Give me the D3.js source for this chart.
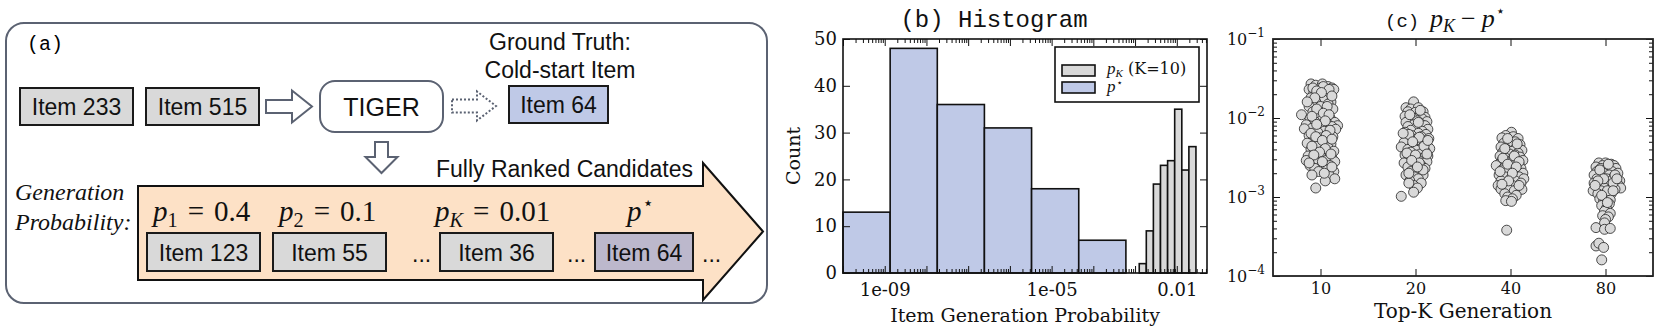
<!DOCTYPE html>
<html>
<head>
<meta charset="utf-8">
<script src="https://cdn.jsdelivr.net/npm/d3@7"></script>
<style>
body { margin: 0; background: #fff; }
</style>
</head>
<body>
<div id="chart"></div>
<script>
// ---------- data ----------
// (a) diagram labels
var inputItems = ["Item 233", "Item 515"];
var targetItem = "Item 64";
var rankedItems = ["Item 123", "Item 55", "Item 36", "Item 64"];
var rankedSubs = ["1", "2", "K", null];
var rankedProbs = ["0.4", "0.1", "0.01", null];

// (b) histogram, bin edges and counts
var pStarEdges = [1e-10, 1.35e-9, 1.82e-8, 2.45e-7, 3.31e-6, 4.47e-5, 6.03e-4];
var pStarCounts = [13, 48, 36, 31, 18, 7];
var pKEdges = [1.26e-3, 1.86e-3, 2.75e-3, 4.07e-3, 6.03e-3, 8.91e-3, 1.32e-2, 1.95e-2, 2.88e-2];
var pKCounts = [2, 9, 19, 23, 24, 35, 22, 27];
var histXLabels = [[1e-9, "1e-09"], [1e-5, "1e-05"], [1e-2, "0.01"]];
var histYTicks = [0, 10, 20, 30, 40, 50];

// (c) p_K - p*, [jitter (category units), value]
var topK = ["10", "20", "40", "80"];
var gapK10 = [[-0.10,0.027],[-0.05,0.026],[0.02,0.027],[0.08,0.025],[0.12,0.024],[-0.12,0.023],[0.00,0.024],[0.05,0.022],[-0.07,0.021],[0.10,0.021],[0.14,0.023],[-0.02,0.020],[0.06,0.019],[-0.10,0.018],[0.03,0.017],[0.11,0.016],[-0.05,0.016],[0.08,0.015],[-0.12,0.014],[0.00,0.014],[0.13,0.013],[-0.08,0.012],[0.05,0.012],[-0.02,0.011],[-0.20,0.011],[0.10,0.010],[-0.11,0.0098],[0.02,0.0095],[0.15,0.0088],[-0.06,0.0090],[0.07,0.0085],[0.18,0.0080],[-0.15,0.0082],[0.12,0.0078],[0.01,0.0076],[-0.09,0.0074],[0.16,0.0072],[-0.17,0.0073],[0.04,0.0068],[-0.03,0.0066],[0.09,0.0063],[-0.12,0.0060],[0.13,0.0058],[0.00,0.0056],[-0.07,0.0053],[0.06,0.0050],[-0.14,0.0048],[0.11,0.0047],[-0.02,0.0045],[0.08,0.0042],[-0.10,0.0040],[0.03,0.0039],[0.14,0.0038],[-0.05,0.0036],[0.09,0.0034],[-0.13,0.0033],[0.01,0.0032],[0.12,0.0031],[-0.08,0.0030],[0.06,0.0029],[-0.15,0.0029],[0.15,0.0028],[-0.03,0.0027],[0.04,0.0026],[-0.11,0.0025],[0.10,0.0025],[0.00,0.0024],[-0.06,0.0023],[0.07,0.0022],[0.14,0.0021],[-0.02,0.0021],[0.09,0.0019],[-0.09,0.0019],[0.15,0.0017],[0.05,0.0016],[-0.05,0.0013],
  [0.03,0.025],[-0.08,0.024],[0.09,0.023],[-0.04,0.022],[0.01,0.021],[0.12,0.019],[-0.06,0.018],[-0.14,0.016],[0.07,0.014],[-0.04,0.013],[0.03,0.0115],[0.09,0.011],[-0.09,0.0105],[0.05,0.0092],[-0.04,0.0083],[0.10,0.0070],[-0.10,0.0064],[0.06,0.0060],[-0.05,0.0058],[0.02,0.0052],[0.12,0.0054],[-0.09,0.0044],[0.05,0.0041],[-0.01,0.0037],[0.11,0.0035],[-0.07,0.0034],[0.02,0.0028],[-0.12,0.0027],[0.12,0.0024],[0.04,0.0020]];
var gapK20 = [[-0.02,0.016],[-0.10,0.0135],[-0.05,0.013],[0.03,0.0135],[0.08,0.012],[-0.08,0.012],[0.00,0.0118],[0.05,0.011],[-0.11,0.0105],[0.10,0.0102],[-0.03,0.010],[0.07,0.0098],[-0.07,0.0093],[0.02,0.0092],[0.12,0.0090],[-0.10,0.0088],[0.05,0.0085],[-0.02,0.0082],[0.10,0.0080],[-0.08,0.0078],[0.01,0.0075],[0.13,0.0072],[-0.05,0.0070],[0.07,0.0068],[-0.11,0.0066],[0.03,0.0064],[0.11,0.0062],[-0.04,0.0060],[0.06,0.0058],[-0.09,0.0056],[0.14,0.0055],[0.00,0.0054],[-0.06,0.0052],[0.09,0.0050],[-0.12,0.0049],[0.03,0.0048],[0.12,0.0046],[-0.03,0.0045],[-0.15,0.0043],[0.07,0.0042],[0.15,0.0041],[-0.08,0.0040],[0.01,0.0039],[0.10,0.0038],[-0.05,0.0037],[0.05,0.0035],[-0.11,0.0034],[0.13,0.0033],[-0.01,0.0032],[0.08,0.0031],[-0.07,0.0030],[0.03,0.0029],[0.12,0.0028],[-0.12,0.0027],[-0.02,0.0026],[0.06,0.0025],[-0.08,0.0024],[0.10,0.0023],[0.01,0.0022],[-0.05,0.0021],[0.05,0.0020],[-0.10,0.0019],[0.08,0.0019],[-0.01,0.0018],[0.03,0.0017],[-0.06,0.0016],[0.06,0.0015],[-0.02,0.0014],[0.02,0.0013],[-0.07,0.0015],[-0.02,0.00115],[-0.15,0.00102],
  [0.05,0.0125],[-0.06,0.011],[0.03,0.0088],[-0.07,0.0062],[0.04,0.0057],[-0.03,0.0050],[0.09,0.0044],[-0.09,0.0036],[0.00,0.0034],[0.04,0.0027],[-0.04,0.0029],[0.12,0.0035],[0.08,0.0022],[-0.07,0.0020],[0.02,0.0024],[0.13,0.0052],[-0.13,0.0064]];
var gapK40 = [[0.01,0.0066],[-0.05,0.0060],[0.03,0.0058],[-0.09,0.0056],[0.08,0.0055],[-0.02,0.0052],[0.05,0.0050],[-0.07,0.0048],[0.10,0.0046],[0.00,0.0045],[-0.10,0.0043],[0.06,0.0042],[-0.04,0.0040],[0.12,0.0039],[0.02,0.0038],[-0.08,0.0037],[0.08,0.0036],[-0.01,0.0035],[0.05,0.0034],[-0.11,0.0033],[0.10,0.0032],[-0.05,0.0031],[0.02,0.0030],[-0.09,0.0029],[0.13,0.0029],[0.06,0.0028],[-0.02,0.0027],[-0.12,0.0026],[0.09,0.0026],[-0.15,0.0025],[0.03,0.0025],[-0.06,0.0024],[0.11,0.0023],[0.00,0.0023],[-0.09,0.0022],[0.07,0.0021],[-0.03,0.0021],[0.13,0.0020],[-0.12,0.0019],[0.04,0.0019],[-0.06,0.0018],[0.09,0.0018],[0.00,0.0017],[0.14,0.0017],[-0.10,0.0016],[0.05,0.0016],[-0.04,0.0015],[0.11,0.0015],[-0.13,0.0014],[0.02,0.0014],[-0.07,0.0013],[0.08,0.0013],[-0.10,0.00126],[-0.02,0.00125],[0.12,0.00125],[0.04,0.0012],[-0.06,0.0011],[0.06,0.00105],[-0.03,0.0010],[0.02,0.00095],[-0.05,0.0009],[0.01,0.00088],[-0.04,0.00038],
  [-0.03,0.0055],[0.07,0.0047],[-0.06,0.0041],[0.04,0.0033],[-0.08,0.0031],[0.09,0.0028],[-0.03,0.0026],[0.06,0.0024],[-0.11,0.0021],[0.02,0.0020],[-0.02,0.0016],[0.09,0.0014],[-0.09,0.00145]];
var gapK80 = [[-0.07,0.0027],[0.00,0.0027],[0.06,0.0026],[-0.03,0.0025],[0.09,0.0025],[-0.10,0.0024],[0.03,0.0024],[-0.05,0.0023],[0.11,0.0023],[0.00,0.0022],[-0.09,0.0021],[0.07,0.0021],[-0.02,0.0020],[0.13,0.0020],[0.04,0.0019],[-0.12,0.0019],[-0.05,0.0018],[0.09,0.0018],[0.01,0.0017],[-0.09,0.0017],[0.15,0.0016],[0.06,0.0016],[-0.03,0.0015],[-0.12,0.0015],[0.11,0.0015],[0.02,0.0014],[-0.07,0.0014],[0.14,0.0014],[0.07,0.0013],[-0.01,0.0013],[-0.10,0.0013],[0.16,0.0013],[0.04,0.0012],[-0.13,0.0012],[-0.05,0.0012],[0.10,0.00125],[0.00,0.0011],[-0.08,0.0011],[0.06,0.0011],[-0.03,0.0010],[0.03,0.0010],[-0.06,0.00095],[0.05,0.00092],[-0.02,0.00088],[0.04,0.00082],[-0.04,0.00078],[0.01,0.00072],[-0.01,0.00066],[0.05,0.00062],[-0.03,0.00058],[0.03,0.00056],[0.00,0.00052],[-0.01,0.00047],[-0.10,0.00041],[-0.01,0.00039],[0.05,0.00040],[-0.10,0.00024],[-0.07,0.00026],[-0.02,0.00023],[-0.04,0.00016],
  [0.03,0.0026],[-0.06,0.0022],[0.10,0.0019],[-0.02,0.0017],[0.08,0.0015],[-0.08,0.0016],[0.12,0.0017],[-0.11,0.0014],[0.02,0.0012],[0.08,0.0012],[-0.04,0.00105],[0.02,0.00085]];
var gapSeries = [gapK10, gapK20, gapK40, gapK80];

// ---------- setup ----------
var W = 1661, H = 329;
var SANS = "Liberation Sans, Arial, Helvetica, sans-serif";
var SERIF = "DejaVu Serif, serif";
var TIMES = "Liberation Serif, Times New Roman, serif";
var MONO = "Liberation Mono, Courier New, monospace";
var GRAY = "#d9d9d9", BLUE = "#bfc9e7", PEACH = "#fde1c6", PURPLE = "#bcb8cc", SLATE = "#5b6272";

var svg = d3.select("#chart").append("svg")
    .attr("width", W).attr("height", H)
    .style("background", "#fff");

// math label helper: italic p, optional subscript/superscript, optional "= value"
function mathP(g, x, y, size, sub, subItalic, sup, rest, gap) {
    var t = g.append("text").attr("x", x).attr("y", y)
        .attr("font-family", TIMES).attr("font-size", size).attr("fill", "#111");
    t.append("tspan").attr("font-style", "italic").text("p");
    if (sub) {
        t.append("tspan").attr("font-size", size * 0.7).attr("dy", size * 0.22)
            .attr("font-style", subItalic ? "italic" : "normal").text(sub);
    }
    if (sup) {
        t.append("tspan").attr("font-size", size * 0.62).attr("dy", -size * 0.42).attr("dx", 1)
            .attr("font-family", "DejaVu Sans, sans-serif").text(sup);
    }
    if (rest) {
        t.append("tspan").attr("dy", sub ? -size * 0.22 : 0).attr("dx", gap).text("=");
        t.append("tspan").attr("dx", gap).text(rest);
    }
    return t;
}

// ---------- (a) diagram ----------
var gA = svg.append("g");
gA.append("rect").attr("x", 6).attr("y", 23).attr("width", 761).attr("height", 280)
    .attr("rx", 18).attr("fill", "none").attr("stroke", SLATE).attr("stroke-width", 2);
gA.append("text").attr("x", 27).attr("y", 50).attr("font-family", MONO)
    .attr("font-size", 20).text("(a)");

function itemBox(x, y, w, h, fill, label) {
    gA.append("rect").attr("x", x).attr("y", y).attr("width", w).attr("height", h)
        .attr("fill", fill).attr("stroke", "#1a1a1a").attr("stroke-width", 2);
    gA.append("text").attr("x", x + w / 2).attr("y", y + h / 2 + 8.5)
        .attr("text-anchor", "middle").attr("font-family", SANS).attr("font-size", 23)
        .attr("fill", "#111").text(label);
}
function hollowArrowH(x0, xh, x1, cy, s, hh, dashed) {
    var p = d3.path();
    p.moveTo(x0, cy - s); p.lineTo(xh, cy - s); p.lineTo(xh, cy - hh); p.lineTo(x1, cy);
    p.lineTo(xh, cy + hh); p.lineTo(xh, cy + s); p.lineTo(x0, cy + s); p.closePath();
    gA.append("path").attr("d", p.toString()).attr("fill", "#fff").attr("stroke", SLATE)
        .attr("stroke-width", 2).attr("stroke-dasharray", dashed ? "2,2" : null)
        .attr("stroke-linejoin", "miter");
}

inputItems.forEach(function (d, i) { itemBox(20 + i * 126, 88, 113, 37, GRAY, d); });
hollowArrowH(266, 292, 312, 106.5, 6.5, 16, false);

gA.append("rect").attr("x", 320).attr("y", 81).attr("width", 123).attr("height", 51)
    .attr("rx", 15).attr("fill", "#fff").attr("stroke", SLATE).attr("stroke-width", 2);
gA.append("text").attr("x", 381.5).attr("y", 115.5).attr("text-anchor", "middle")
    .attr("font-family", SANS).attr("font-size", 25).attr("fill", "#111").text("TIGER");

hollowArrowH(452, 477, 496, 106, 6.5, 14.5, true);
itemBox(509, 86, 99, 37, BLUE, targetItem);
gA.append("text").attr("x", 560).attr("y", 50).attr("text-anchor", "middle")
    .attr("font-family", SANS).attr("font-size", 23).attr("fill", "#111").text("Ground Truth:");
gA.append("text").attr("x", 560).attr("y", 78).attr("text-anchor", "middle")
    .attr("font-family", SANS).attr("font-size", 23).attr("fill", "#111").text("Cold-start Item");

// down arrow
(function () {
    var cx = 381.5, s = 6.5, hh = 16, y0 = 142, yh = 157, y1 = 173;
    var p = d3.path();
    p.moveTo(cx - s, y0); p.lineTo(cx - s, yh); p.lineTo(cx - hh, yh); p.lineTo(cx, y1);
    p.lineTo(cx + hh, yh); p.lineTo(cx + s, yh); p.lineTo(cx + s, y0); p.closePath();
    gA.append("path").attr("d", p.toString()).attr("fill", "#fff").attr("stroke", SLATE).attr("stroke-width", 2);
})();

// big ranking arrow
(function () {
    var p = d3.path();
    p.moveTo(138, 186); p.lineTo(703, 186); p.lineTo(703, 163); p.lineTo(763, 231.5);
    p.lineTo(703, 300); p.lineTo(703, 280); p.lineTo(138, 280); p.closePath();
    gA.append("path").attr("d", p.toString()).attr("fill", PEACH).attr("stroke", "#111").attr("stroke-width", 2);
})();
gA.append("text").attr("x", 693).attr("y", 177).attr("text-anchor", "end")
    .attr("font-family", SANS).attr("font-size", 23).attr("fill", "#111").text("Fully Ranked Candidates");
gA.append("text").attr("x", 15).attr("y", 200).attr("font-family", TIMES).attr("font-style", "italic")
    .attr("font-size", 24).attr("fill", "#111").text("Generation");
gA.append("text").attr("x", 15).attr("y", 230).attr("font-family", TIMES).attr("font-style", "italic")
    .attr("font-size", 24).attr("fill", "#111").text("Probability:");

var rankX = [147, 273, 440, 595], rankW = [113, 113, 113, 98], mathX = [153, 279, 435, 627];
rankedItems.forEach(function (d, i) {
    itemBox(rankX[i], 233, rankW[i], 38, i === 3 ? PURPLE : GRAY, d);
    if (rankedProbs[i]) mathP(gA, mathX[i], 221, 29, rankedSubs[i], rankedSubs[i] === "K", null, rankedProbs[i], 10);
    else mathP(gA, mathX[i], 221, 29, null, false, "\u22c6", null, 0);
});
[412, 567, 702].forEach(function (x) {
    gA.append("text").attr("x", x).attr("y", 262).attr("font-family", SANS).attr("font-size", 23)
        .attr("fill", "#111").text("...");
});

// ---------- (b) histogram ----------
var bL = 843, bR = 1207, bT = 39, bB = 273;
var xB = d3.scaleLog().domain([1e-10, 0.053]).range([bL, bR]);
var yB = d3.scaleLinear().domain([0, 50]).range([bB, bT]);
var gB = svg.append("g");

function bins(edges, counts) {
    return counts.map(function (c, i) { return { x0: edges[i], x1: edges[i + 1], n: c }; });
}
gB.selectAll("rect.pstar").data(bins(pStarEdges, pStarCounts)).enter().append("rect")
    .attr("class", "pstar")
    .attr("x", function (d) { return xB(d.x0); })
    .attr("width", function (d) { return xB(d.x1) - xB(d.x0); })
    .attr("y", function (d) { return yB(d.n); })
    .attr("height", function (d) { return yB(0) - yB(d.n); })
    .attr("fill", BLUE).attr("stroke", "#111").attr("stroke-width", 1.6);
gB.selectAll("rect.pk").data(bins(pKEdges, pKCounts)).enter().append("rect")
    .attr("class", "pk")
    .attr("x", function (d) { return xB(d.x0); })
    .attr("width", function (d) { return xB(d.x1) - xB(d.x0); })
    .attr("y", function (d) { return yB(d.n); })
    .attr("height", function (d) { return yB(0) - yB(d.n); })
    .attr("fill", GRAY).attr("stroke", "#111").attr("stroke-width", 1.6);

var decadesB = d3.range(-10, -1).map(function (e) { return Math.pow(10, e); });
var minorB = [];
d3.range(-10, -1).forEach(function (e) {
    d3.range(2, 10).forEach(function (m) {
        var v = m * Math.pow(10, e);
        if (v < 0.053) minorB.push(v);
    });
});

function styleAxis(g, size, family) {
    g.select(".domain").remove();
    g.selectAll("line").attr("stroke", "#111").attr("stroke-width", 1);
    g.selectAll("text").attr("font-size", size).attr("font-family", family).attr("fill", "#111");
    g.attr("font-family", null).attr("font-size", null);
}
styleAxis(gB.append("g").attr("transform", "translate(0," + bB + ")")
    .call(d3.axisBottom(xB).tickValues(decadesB).tickSize(-7).tickPadding(10)
        .tickFormat(function (d) {
            var k = histXLabels.find(function (h) { return Math.abs(Math.log10(h[0]) - Math.log10(d)) < 1e-6; });
            return k ? k[1] : "";
        })), 18, SERIF);
styleAxis(gB.append("g").attr("transform", "translate(0," + bB + ")")
    .call(d3.axisBottom(xB).tickValues(minorB).tickSize(-4).tickFormat("")), 18, SERIF);
styleAxis(gB.append("g").attr("transform", "translate(0," + bT + ")")
    .call(d3.axisTop(xB).tickValues(decadesB).tickSize(-7).tickFormat("")), 18, SERIF);
styleAxis(gB.append("g").attr("transform", "translate(0," + bT + ")")
    .call(d3.axisTop(xB).tickValues(minorB).tickSize(-4).tickFormat("")), 18, SERIF);
styleAxis(gB.append("g").attr("transform", "translate(" + bL + ",0)")
    .call(d3.axisLeft(yB).tickValues(histYTicks).tickSize(-7).tickPadding(6)), 18, SERIF);
styleAxis(gB.append("g").attr("transform", "translate(" + bR + ",0)")
    .call(d3.axisRight(yB).tickValues(histYTicks).tickSize(-7).tickFormat("")), 18, SERIF);
gB.append("rect").attr("x", bL).attr("y", bT).attr("width", bR - bL).attr("height", bB - bT)
    .attr("fill", "none").attr("stroke", "#111").attr("stroke-width", 1.6);

gB.append("text").attr("x", (bL + bR) / 2 - 31).attr("y", 27).attr("text-anchor", "middle")
    .attr("font-family", MONO).attr("font-size", 24).attr("fill", "#111").text("(b) Histogram");
gB.append("text").attr("x", 1025).attr("y", 322).attr("text-anchor", "middle")
    .attr("font-family", SERIF).attr("font-size", 19).attr("fill", "#111").text("Item Generation Probability");
gB.append("text").attr("transform", "translate(800," + (bT + bB) / 2 + ") rotate(-90)")
    .attr("text-anchor", "middle").attr("font-family", SERIF).attr("font-size", 19)
    .attr("fill", "#111").text("Count");

// legend
var leg = gB.append("g");
leg.append("rect").attr("x", 1055).attr("y", 47).attr("width", 144).attr("height", 55)
    .attr("fill", "#fff").attr("stroke", "#111").attr("stroke-width", 1.6);
[[GRAY, "K"], [BLUE, null]].forEach(function (d, i) {
    leg.append("rect").attr("x", 1062).attr("y", 65 + i * 17).attr("width", 33).attr("height", 11)
        .attr("fill", d[0]).attr("stroke", "#111").attr("stroke-width", 1.6);
});
(function () {
    var t = leg.append("text").attr("x", 1107).attr("y", 74).attr("font-family", TIMES)
        .attr("font-size", 15).attr("fill", "#111");
    t.append("tspan").attr("font-style", "italic").attr("font-size", 17).text("p");
    t.append("tspan").attr("font-style", "italic").attr("font-size", 11).attr("dy", 3).text("K");
    t.append("tspan").attr("dy", -3).attr("font-family", SERIF).attr("font-size", 16).text(" (K=10)");
    var s = leg.append("text").attr("x", 1107).attr("y", 92).attr("font-family", TIMES)
        .attr("font-size", 15).attr("fill", "#111");
    s.append("tspan").attr("font-style", "italic").attr("font-size", 17).text("p");
    s.append("tspan").attr("dy", -6).attr("dx", 1).attr("font-size", 10)
        .attr("font-family", "DejaVu Sans, sans-serif").text("\u22c6");
})();

// ---------- (c) strip plot ----------
var cL = 1273, cR = 1653, cT = 39, cB = 276;
var xC = d3.scalePoint().domain(topK).range([cL, cR]).padding(0.5);
var yC = d3.scaleLog().domain([1e-4, 1e-1]).range([cB, cT]);
var gC = svg.append("g");

var decadesC = [1e-4, 1e-3, 1e-2, 1e-1];
var minorC = [];
[-4, -3, -2].forEach(function (e) {
    d3.range(2, 10).forEach(function (m) { minorC.push(m * Math.pow(10, e)); });
});

var yAxC = gC.append("g").attr("transform", "translate(" + cL + ",0)")
    .call(d3.axisLeft(yC).tickValues(decadesC).tickSize(-7).tickPadding(8)
        .tickFormat(function (d) { return String(Math.round(Math.log10(d))); }));
styleAxis(yAxC, 16, SERIF);
yAxC.selectAll("text").each(function () {
    var t = d3.select(this), e = t.text();
    t.text("");
    t.append("tspan").text("10");
    t.append("tspan").attr("dy", -8).attr("font-size", 12).text("\u2212" + e.replace("-", ""));
});
styleAxis(gC.append("g").attr("transform", "translate(" + cL + ",0)")
    .call(d3.axisLeft(yC).tickValues(minorC).tickSize(-4).tickFormat("")), 14, SERIF);
styleAxis(gC.append("g").attr("transform", "translate(" + cR + ",0)")
    .call(d3.axisRight(yC).tickValues(decadesC).tickSize(-7).tickFormat("")), 14, SERIF);
styleAxis(gC.append("g").attr("transform", "translate(" + cR + ",0)")
    .call(d3.axisRight(yC).tickValues(minorC).tickSize(-4).tickFormat("")), 14, SERIF);
styleAxis(gC.append("g").attr("transform", "translate(0," + cB + ")")
    .call(d3.axisBottom(xC).tickSize(-7).tickPadding(7)), 16, SERIF);
styleAxis(gC.append("g").attr("transform", "translate(0," + cT + ")")
    .call(d3.axisTop(xC).tickSize(-7).tickFormat("")), 16, SERIF);

gapSeries.forEach(function (series, i) {
    gC.append("g").selectAll("circle").data(series).enter().append("circle")
        .attr("cx", function (d) { return xC(topK[i]) + d[0] * xC.step(); })
        .attr("cy", function (d) { return yC(d[1]); })
        .attr("r", 5)
        .attr("fill", GRAY).attr("stroke", "#222").attr("stroke-width", 0.8);
});

gC.append("rect").attr("x", cL).attr("y", cT).attr("width", cR - cL).attr("height", cB - cT)
    .attr("fill", "none").attr("stroke", "#222").attr("stroke-width", 1.8);

gC.append("text").attr("x", 1385).attr("y", 27).attr("font-family", MONO)
    .attr("font-size", 19).attr("fill", "#111").text("(c)");
(function () {
    var t = gC.append("text").attr("x", 1430).attr("y", 27).attr("font-family", TIMES)
        .attr("font-size", 26).attr("fill", "#111");
    t.append("tspan").attr("font-style", "italic").text("p");
    t.append("tspan").attr("font-style", "italic").attr("font-size", 18).attr("dy", 5).text("K");
    t.append("tspan").attr("dy", -5).attr("dx", 6).text("\u2212");
    t.append("tspan").attr("dx", 6).attr("font-style", "italic").text("p");
    t.append("tspan").attr("dy", -11).attr("dx", 1).attr("font-size", 15)
        .attr("font-family", "DejaVu Sans, sans-serif").text("\u22c6");
})();
gC.append("text").attr("x", (cL + cR) / 2).attr("y", 318).attr("text-anchor", "middle")
    .attr("font-family", SERIF).attr("font-size", 20).attr("fill", "#111").text("Top-K Generation");
</script>
</body>
</html>
